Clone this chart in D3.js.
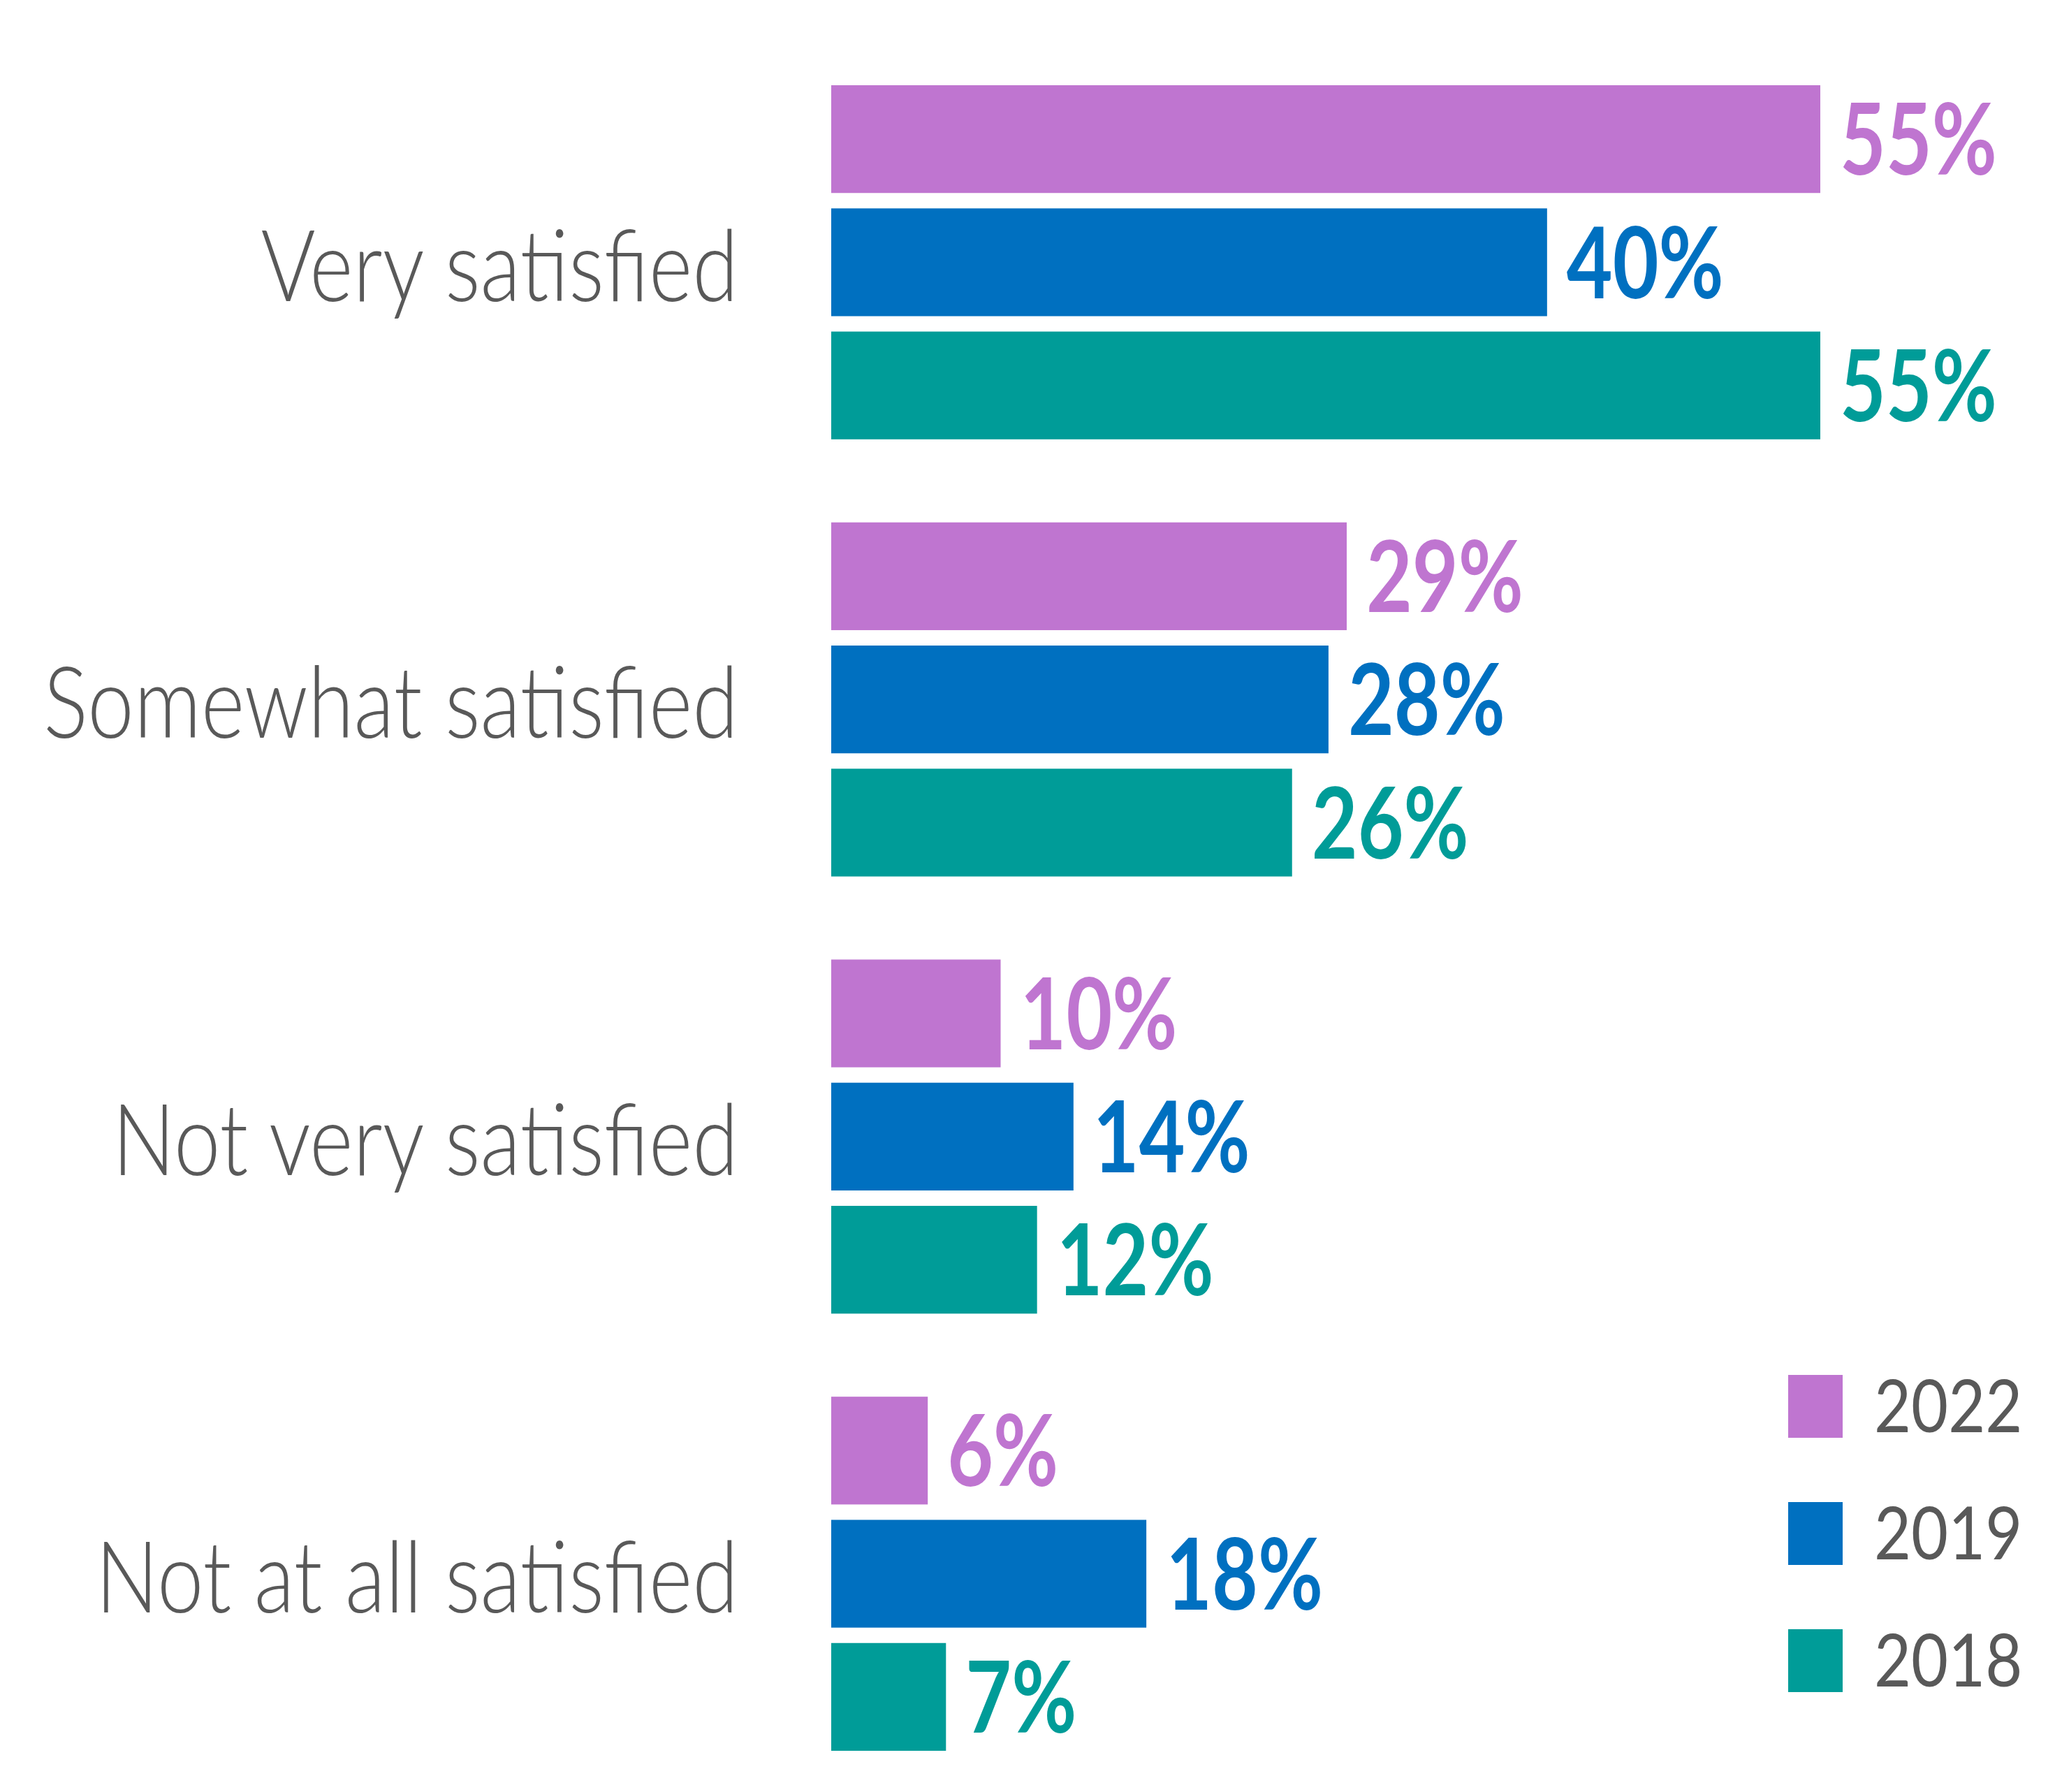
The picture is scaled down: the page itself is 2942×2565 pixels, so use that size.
<!DOCTYPE html>
<html>
<head>
<meta charset="utf-8">
<script src="https://cdn.jsdelivr.net/npm/d3@7"></script>
<style>
  body { margin: 0; background: #fff; }
  text { font-family: Lato, "Open Sans", sans-serif; }
</style>
</head>
<body>
<div id="chart"></div>
<script>
// data
const categories = ["Very satisfied", "Somewhat satisfied", "Not very satisfied", "Not at all satisfied"]
const years = ["2022", "2019", "2018"]
const values2022 = [55, 29, 10, 6]
const values2019 = [40, 28, 14, 18]
const values2018 = [55, 26, 12, 7]
const colors = ["#bf75d0", "#0070c0", "#009c98"]

const seriesByYear = {"2022": values2022, "2019": values2019, "2018": values2018}

// dimensions
let dimensions = {
  width: 2942,
  height: 2565,
  margin: { top: 122, right: 318, bottom: 59, left: 1190 },
}
dimensions.boundedWidth = dimensions.width - dimensions.margin.left - dimensions.margin.right
dimensions.boundedHeight = dimensions.height - dimensions.margin.top - dimensions.margin.bottom

const squeeze = 0.8  // the source text is horizontally compressed

const wrapper = d3.select("#chart")
  .append("svg")
    .attr("width", dimensions.width)
    .attr("height", dimensions.height)

const bounds = wrapper.append("g")
  .attr("transform", `translate(${dimensions.margin.left},${dimensions.margin.top})`)

// scales
// the original bars start a little past zero, so the baseline sits at ~0.7
const xScale = d3.scaleLinear()
  .domain([0.7, 55])
  .range([0, 1416])

const yScale = d3.scaleBand()
  .domain(categories)
  .range([0, dimensions.boundedHeight])
  .paddingInner(0.19)
  .paddingOuter(0)

const innerScale = d3.scaleBand()
  .domain(years)
  .range([0, yScale.bandwidth()])
  .paddingInner(0.125)

const colorScale = d3.scaleOrdinal().domain(years).range(colors)

const rows = categories.map((c, i) => ({
  category: c,
  bars: years.map(y => ({ year: y, value: seriesByYear[y][i] }))
}))

// bars
const groups = bounds.selectAll("g.group")
  .data(rows)
  .enter()
  .append("g")
    .attr("class", "group")
    .attr("transform", d => `translate(0,${yScale(d.category)})`)

groups.selectAll("rect")
  .data(d => d.bars)
  .enter()
  .append("rect")
    .attr("x", xScale.range()[0])
    .attr("y", d => innerScale(d.year))
    .attr("width", d => xScale(d.value) - xScale.range()[0])
    .attr("height", innerScale.bandwidth())
    .attr("fill", d => colorScale(d.year))

// value labels
groups.selectAll("g.value")
  .data(d => d.bars)
  .enter()
  .append("g")
    .attr("class", "value")
    .attr("transform", d => `translate(${xScale(d.value) + 28},${innerScale(d.year) + innerScale.bandwidth() / 2}) scale(${squeeze},1)`)
  .append("text")
    .attr("dy", "0.36em")
    .attr("font-size", 142)
    .attr("font-weight", 700)
    .attr("fill", d => colorScale(d.year))
    .text(d => d.value + "%")

// category labels
bounds.selectAll("g.cat")
  .data(categories)
  .enter()
  .append("g")
    .attr("class", "cat")
    .attr("transform", d => `translate(-133,${yScale(d) + yScale.bandwidth() / 2 + 4}) scale(0.84,1)`)
  .append("text")
    .attr("text-anchor", "end")
    .attr("dy", "0.36em")
    .attr("font-size", 142)
    .attr("font-weight", 300)
    .attr("fill", "#595959")
    .text(d => d)

// legend
const legend = wrapper.append("g")
  .attr("transform", "translate(2560,1968)")

const legendStep = 182
const legendItem = legend.selectAll("g")
  .data(years)
  .enter()
  .append("g")
    .attr("transform", (d, i) => `translate(0,${i * legendStep})`)

legendItem.append("rect")
  .attr("width", 78)
  .attr("height", 90)
  .attr("fill", d => colorScale(d))

legendItem.append("g")
    .attr("transform", `translate(123,45) scale(0.88,1)`)
  .append("text")
    .attr("dy", "0.36em")
    .attr("font-size", 104)
    .attr("fill", "#595959")
    .text(d => d)
</script>
</body>
</html>
